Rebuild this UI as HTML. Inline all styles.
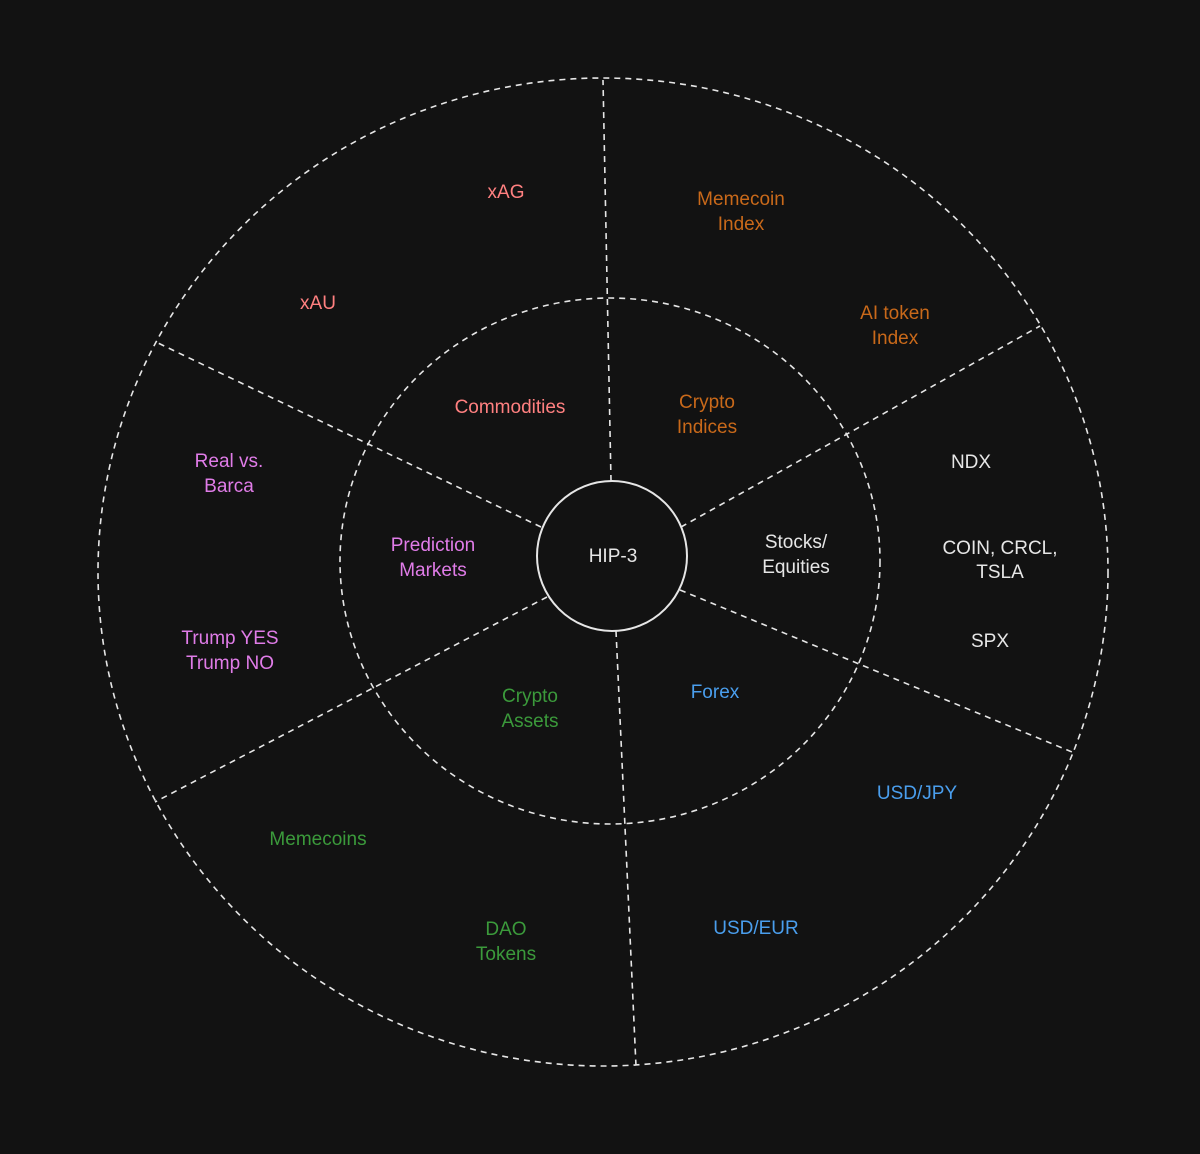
<!DOCTYPE html>
<html><head><meta charset="utf-8"><style>
html,body{margin:0;padding:0;background:#121212;}
svg{display:block}
text{font-family:"Liberation Sans",sans-serif;font-size:19px;text-anchor:middle;}
</style></head><body>
<svg width="1200" height="1154" viewBox="0 0 1200 1154" xmlns="http://www.w3.org/2000/svg">
<rect width="1200" height="1154" fill="#121212"/>
<g fill="none" stroke="#e6e6e6" stroke-width="1.6" stroke-dasharray="6 5">
<ellipse cx="603" cy="572" rx="505" ry="494"/>
<ellipse cx="610" cy="561" rx="270" ry="263"/>
<line x1="611" y1="481" x2="603" y2="80"/>
<line x1="681" y1="527" x2="1040" y2="326"/>
<line x1="680" y1="590" x2="1072" y2="752"/>
<line x1="616" y1="631" x2="636" y2="1066"/>
<line x1="547" y1="597" x2="155" y2="802"/>
<line x1="541" y1="527" x2="158" y2="343"/>
</g>
<circle cx="612" cy="556" r="75" fill="#121212" stroke="#e6e6e6" stroke-width="2"/>
<text x="613" y="562" fill="#e6e6e6">HIP-3</text>
<g fill="#ff8080">
<text x="510" y="413">Commodities</text>
<text x="506" y="198">xAG</text>
<text x="318" y="309">xAU</text>
</g>
<g fill="#c9691a">
<text x="707" y="408">Crypto</text><text x="707" y="433">Indices</text>
<text x="741" y="205">Memecoin</text><text x="741" y="230">Index</text>
<text x="895" y="319">AI token</text><text x="895" y="344">Index</text>
</g>
<g fill="#e6e6e6">
<text x="796" y="548">Stocks/</text><text x="796" y="573">Equities</text>
<text x="971" y="468">NDX</text>
<text x="1000" y="554">COIN, CRCL,</text><text x="1000" y="578">TSLA</text>
<text x="990" y="647">SPX</text>
</g>
<g fill="#4a9eed">
<text x="715" y="698">Forex</text>
<text x="917" y="799">USD/JPY</text>
<text x="756" y="934">USD/EUR</text>
</g>
<g fill="#3b9a3b">
<text x="530" y="702">Crypto</text><text x="530" y="727">Assets</text>
<text x="318" y="845">Memecoins</text>
<text x="506" y="935">DAO</text><text x="506" y="960">Tokens</text>
</g>
<g fill="#e07ce8">
<text x="433" y="551">Prediction</text><text x="433" y="576">Markets</text>
<text x="229" y="467">Real vs.</text><text x="229" y="492">Barca</text>
<text x="230" y="644">Trump YES</text><text x="230" y="669">Trump NO</text>
</g>
</svg>
</body></html>
